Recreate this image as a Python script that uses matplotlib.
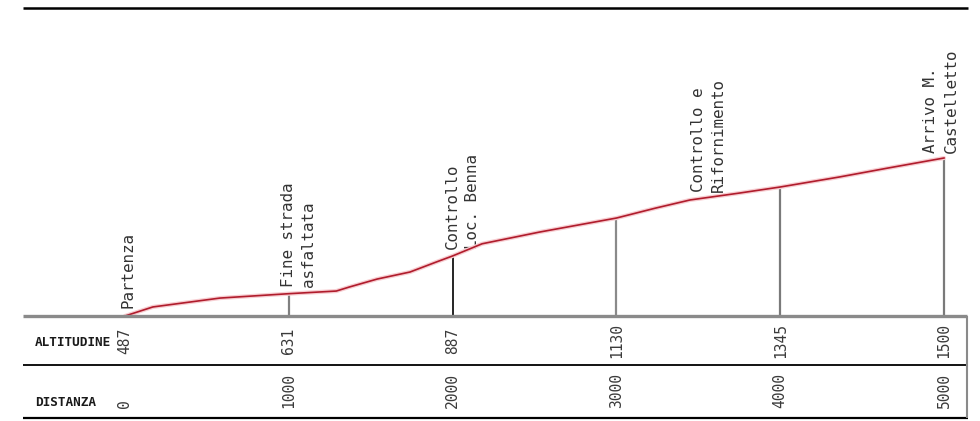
import numpy as np
import matplotlib
matplotlib.use("Agg")
import matplotlib.pyplot as plt
from matplotlib import transforms

# ---------------- data ----------------
profile_dist = [0, 170, 580, 1000, 1290, 1370, 1540, 1740, 1900, 2000,
                2180, 2530, 3000, 3240, 3450, 3750, 4000, 4360, 4660, 5000]
profile_alt = [487, 545, 602, 630, 647, 673, 724, 769, 833, 872,
               950, 1025, 1115, 1179, 1231, 1275, 1314, 1378, 1436, 1500]

marker_dist = [1000, 2000, 3000, 4000, 5000]
marker_colors = ["#808080", "#000000", "#8a8a8a", "#7a7a7a", "#7a7a7a"]

table_dist = [0, 1000, 2000, 3000, 4000, 5000]
table_alt = [487, 631, 887, 1130, 1345, 1500]

label_dist = [20, 1000, 2000, 3500, 4920]
label_lines = [["Partenza"],
               ["Fine strada", "asfaltata"],
               ["Controllo", "Loc. Benna"],
               ["Controllo e", "Rifornimento"],
               ["Arrivo M.", "Castelletto"]]
row_labels = ["ALTITUDINE", "DISTANZA"]

# ---------------- layout ----------------
W, H = 980, 421
X0, X1 = 125, 944          # pixel x of distance 0 and 5000
BASE, TOPA = 316, 158      # pixel y of altitude 487 and 1500
MONO = "DejaVu Sans Mono"

fig = plt.figure(figsize=(W / 100, H / 100), dpi=100)
fig.patch.set_facecolor("white")

ax = fig.add_axes([0, 0, 1, 1])
pxm = (X1 - X0) / (table_dist[-1] - table_dist[0])
pya = (BASE - TOPA) / (table_alt[-1] - table_alt[0])
ax.set_xlim(-X0 / pxm, (W - X0) / pxm)
ax.set_ylim(table_alt[0] - (H - BASE) / pya, table_alt[0] + BASE / pya)
ax.axis("off")

lay = fig.add_axes([0, 0, 1, 1])
lay.set_xlim(0, W)
lay.set_ylim(H, 0)
lay.axis("off")

tr = transforms.blended_transform_factory(ax.transData, lay.transData)

# frame lines
lay.plot([23, 968], [8, 8], color="black", lw=1.8, solid_capstyle="butt")
lay.plot([23, 967], [316, 316], color="#8a8a8a", lw=2.4, solid_capstyle="butt")
lay.plot([23, 968], [365, 365], color="black", lw=1.3, solid_capstyle="butt")
lay.plot([23, 968], [418, 418], color="black", lw=1.6, solid_capstyle="butt")
lay.plot([967, 967], [316, 418], color="#8a8a8a", lw=1.5, solid_capstyle="butt")

# vertical markers
for d, c in zip(marker_dist, marker_colors):
    a = np.interp(d, profile_dist, profile_alt)
    ax.plot([d, d], [profile_alt[0], a], color=c,
            lw=1.2 if c == "#000000" else 1.6, solid_capstyle="butt", zorder=3)

# profile
ax.plot(profile_dist, profile_alt, color="#f7cdd1", lw=3.0, zorder=4,
        solid_capstyle="round")
ax.plot(profile_dist, profile_alt, color="#b01c2c", lw=1.2, zorder=5)

# station labels
for d, lines in zip(label_dist, label_lines):
    a = np.interp(d, profile_dist, profile_alt)
    for i, s in enumerate(lines):
        t = transforms.offset_copy(ax.transData, fig=fig, x=i * 20, y=7,
                                   units="dots")
        ax.text(d, a, s, rotation=90, ha="center", va="bottom",
                transform=t, fontsize=11.4, family=MONO, color="#333333")

# table values
for d, a in zip(table_dist, table_alt):
    ax.text(d, 341, str(a), rotation=90, ha="center", va="center",
            transform=tr, fontsize=10.5, family=MONO, color="#3a3a3a")
    ax.text(d, 408, str(d), rotation=90, ha="center", va="bottom",
            transform=tr, fontsize=10.5, family=MONO, color="#3a3a3a")

lay.text(35, 342, row_labels[0], ha="left", va="center", fontsize=9.2,
         family=MONO, fontweight="bold", color="#1a1a1a")
lay.text(35, 403, row_labels[1], ha="left", va="center", fontsize=9.2,
         family=MONO, fontweight="bold", color="#1a1a1a")

fig.savefig("out.png", dpi=100, facecolor="white")
